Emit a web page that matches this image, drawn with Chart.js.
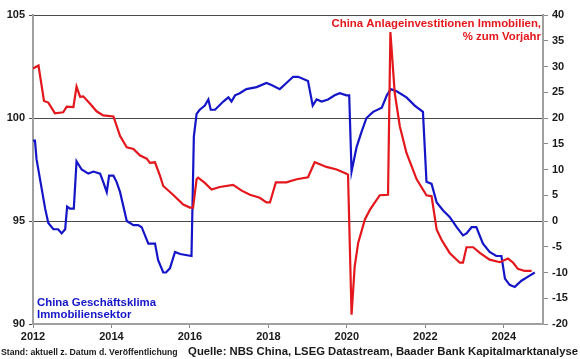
<!DOCTYPE html>
<html>
<head>
<meta charset="utf-8">
<script src="https://cdn.jsdelivr.net/npm/chart.js@4.4.1/dist/chart.umd.min.js"></script>
<style>
  html, body { margin: 0; padding: 0; background: #fff; }
</style>
</head>
<body>
<canvas id="chart" width="580" height="359"></canvas>
<script>
// Geschäftsklima Immobiliensektor (linke Achse), Zeitpunkte als Dezimaljahr
const klimaZeit = [2012.00, 2012.05, 2012.09, 2012.31, 2012.39, 2012.52, 2012.64, 2012.73, 2012.82, 2012.87, 2012.94, 2013.04,
  2013.11, 2013.24, 2013.41, 2013.54, 2013.71, 2013.79, 2013.88, 2013.94, 2014.05, 2014.13, 2014.22, 2014.39, 2014.56,
  2014.68, 2014.77, 2014.94, 2015.11, 2015.19, 2015.32, 2015.39, 2015.49, 2015.62, 2015.75, 2016.04, 2016.10, 2016.17,
  2016.25, 2016.38, 2016.47, 2016.53, 2016.64, 2016.85, 2016.98, 2017.06, 2017.15, 2017.27, 2017.44, 2017.70, 2017.95,
  2018.08, 2018.29, 2018.46, 2018.63, 2018.76, 2019.01, 2019.13, 2019.23, 2019.36, 2019.52, 2019.69, 2019.82, 2019.99,
  2020.06, 2020.12, 2020.25, 2020.37, 2020.50, 2020.67, 2020.89, 2021.02, 2021.12, 2021.27, 2021.52, 2021.73, 2021.94,
  2022.03, 2022.16, 2022.29, 2022.46, 2022.62, 2022.80, 2022.96, 2023.05, 2023.18, 2023.30, 2023.47, 2023.64, 2023.81,
  2023.94, 2024.03, 2024.15, 2024.28, 2024.45, 2024.62, 2024.79];
const klimaWerte = [98.9, 98.9, 98.0, 95.6, 94.9, 94.6, 94.6, 94.4, 94.6, 95.7, 95.6, 95.6,
  97.9, 97.5, 97.3, 97.4, 97.3, 96.9, 96.4, 97.2, 97.2, 96.9, 96.4, 95.0, 94.8,
  94.8, 94.7, 93.9, 93.9, 93.1, 92.5, 92.5, 92.7, 93.5, 93.4, 93.3, 99.1, 100.2,
  100.4, 100.6, 100.9, 100.4, 100.4, 100.8, 101.0, 100.8, 101.1, 101.2, 101.4, 101.5, 101.7,
  101.6, 101.4, 101.7, 102.0, 102.0, 101.8, 100.6, 100.9, 100.8, 100.9, 101.1, 101.2, 101.1,
  101.1, 97.4, 98.6, 99.3, 100.0, 100.3, 100.5, 101.1, 101.4, 101.3, 101.0, 100.6, 100.3,
  96.9, 96.8, 95.9, 95.5, 95.2, 94.7, 94.3, 94.4, 94.7, 94.7, 93.9, 93.5, 93.3,
  93.3, 92.2, 91.9, 91.8, 92.1, 92.3, 92.5];

// Anlageinvestitionen Immobilien, % zum Vorjahr (rechte Achse)
const investZeit = [2012.00, 2012.14, 2012.28, 2012.39, 2012.56, 2012.77, 2012.86, 2013.03, 2013.11, 2013.20, 2013.28,
  2013.45, 2013.62, 2013.79, 2014.05, 2014.22, 2014.39, 2014.56, 2014.73, 2014.90, 2014.98, 2015.11, 2015.24, 2015.32,
  2015.57, 2015.83, 2016.00, 2016.08, 2016.17, 2016.21, 2016.38, 2016.55, 2016.76, 2017.10, 2017.32, 2017.53, 2017.78,
  2017.95, 2018.04, 2018.19, 2018.46, 2018.72, 2019.01, 2019.18, 2019.31, 2019.48, 2019.74, 2019.99, 2020.03, 2020.12,
  2020.20, 2020.29, 2020.46, 2020.59, 2020.84, 2021.05, 2021.11, 2021.22, 2021.35, 2021.52, 2021.78, 2022.03, 2022.16,
  2022.29, 2022.41, 2022.62, 2022.88, 2022.96, 2023.05, 2023.22, 2023.39, 2023.64, 2023.90, 2024.11, 2024.24, 2024.36,
  2024.53, 2024.71];
const investWerte = [29.6, 30.2, 23.3, 23.0, 20.9, 21.1, 22.2, 22.1, 26.1, 24.1, 24.2,
  22.8, 21.3, 20.5, 20.3, 16.5, 14.3, 14.0, 12.7, 12.1, 11.3, 11.4, 8.7, 6.8,
  5.1, 3.2, 2.6, 2.6, 8.1, 8.4, 7.4, 6.1, 6.6, 7.0, 5.9, 5.1, 4.5,
  3.6, 3.6, 7.5, 7.5, 8.1, 8.5, 11.4, 11.0, 10.5, 10.0, 9.2, 9.0, -18.2,
  -8.8, -4.2, 0.3, 2.2, 5.0, 5.1, 36.7, 24.9, 18.4, 13.2, 8.1, 5.0, 4.8,
  -1.7, -3.6, -6.2, -8.1, -8.1, -5.1, -5.1, -6.2, -7.5, -8.0, -7.3, -8.1, -9.3,
  -9.7, -9.7];

// Achsenbeschriftung
const jahre = [2012, 2014, 2016, 2018, 2020, 2022, 2024];

const ROT = '#e3171c';
const BLAU = '#1515c8';
const SCHRIFT = '"Liberation Sans", Arial, sans-serif';

const zuPunkten = (xs, ys) => xs.map((x, i) => ({ x: x, y: ys[i] }));

// Texte (Legende, Quelle) direkt auf den Canvas schreiben
const textePlugin = {
  id: 'texte',
  afterDraw(chart) {
    const ctx = chart.ctx;
    ctx.save();
    ctx.textBaseline = 'middle';

    ctx.fillStyle = ROT;
    ctx.textAlign = 'right';
    ctx.font = 'bold 11.4px ' + SCHRIFT;
    ctx.fillText('China Anlageinvestitionen Immobilien,', 541, 24);
    ctx.fillText('% zum Vorjahr', 541, 37);

    ctx.fillStyle = BLAU;
    ctx.textAlign = 'left';
    ctx.fillText('China Geschäftsklima', 37, 303);
    ctx.fillText('Immobiliensektor', 37, 315);

    ctx.fillStyle = '#1a1a1a';
    ctx.font = 'bold 8.7px ' + SCHRIFT;
    ctx.fillText('Stand: aktuell z. Datum d. Veröffentlichung', 1, 353);
    ctx.textAlign = 'right';
    ctx.font = 'bold 11.3px ' + SCHRIFT;
    ctx.fillText('Quelle: NBS China, LSEG Datastream, Baader Bank Kapitalmarktanalyse', 578, 352);
    ctx.restore();
  }
};

const tickFont = { family: SCHRIFT, size: 11, weight: 'bold' };

new Chart(document.getElementById('chart'), {
  type: 'line',
  data: {
    datasets: [
      {
        label: 'China Anlageinvestitionen Immobilien, % zum Vorjahr',
        data: zuPunkten(investZeit, investWerte),
        yAxisID: 'yRechts',
        borderColor: ROT,
        borderWidth: 2.2,
        pointRadius: 0,
        tension: 0
      },
      {
        label: 'China Geschäftsklima Immobiliensektor',
        data: zuPunkten(klimaZeit, klimaWerte),
        yAxisID: 'yLinks',
        borderColor: BLAU,
        borderWidth: 2.2,
        pointRadius: 0,
        tension: 0
      }
    ]
  },
  options: {
    responsive: false,
    animation: false,
    devicePixelRatio: 1,
    layout: { padding: { top: 15, left: 0, right: 0, bottom: 0 } },
    plugins: {
      legend: { display: false },
      tooltip: { enabled: false }
    },
    scales: {
      x: {
        type: 'linear',
        min: 2012,
        max: 2025,
        afterBuildTicks: axis => { axis.ticks = jahre.map(v => ({ value: v })); },
        afterFit: axis => { axis.height = 35; },
        grid: { drawOnChartArea: false, drawTicks: true, tickLength: 4, color: '#888' },
        border: { display: true, color: '#a0a0a0', width: 2 },
        ticks: { font: tickFont, color: '#1a1a1a', padding: 2, maxRotation: 0, callback: v => String(v) }
      },
      yLinks: {
        position: 'left',
        min: 90,
        max: 105,
        afterFit: axis => { axis.width = 33; },
        grid: { color: '#4a4a4a', lineWidth: 1, tickLength: 4 },
        border: { display: true, color: '#a0a0a0', width: 2 },
        ticks: { stepSize: 5, font: tickFont, color: '#1a1a1a', padding: 4 }
      },
      yRechts: {
        position: 'right',
        min: -20,
        max: 40,
        afterFit: axis => { axis.width = 37; },
        grid: { drawOnChartArea: false, color: '#888', tickLength: 5 },
        border: { display: true, color: '#a0a0a0', width: 2 },
        ticks: { stepSize: 5, font: tickFont, color: '#1a1a1a', padding: 4 }
      }
    }
  },
  plugins: [textePlugin]
});
</script>
</body>
</html>
